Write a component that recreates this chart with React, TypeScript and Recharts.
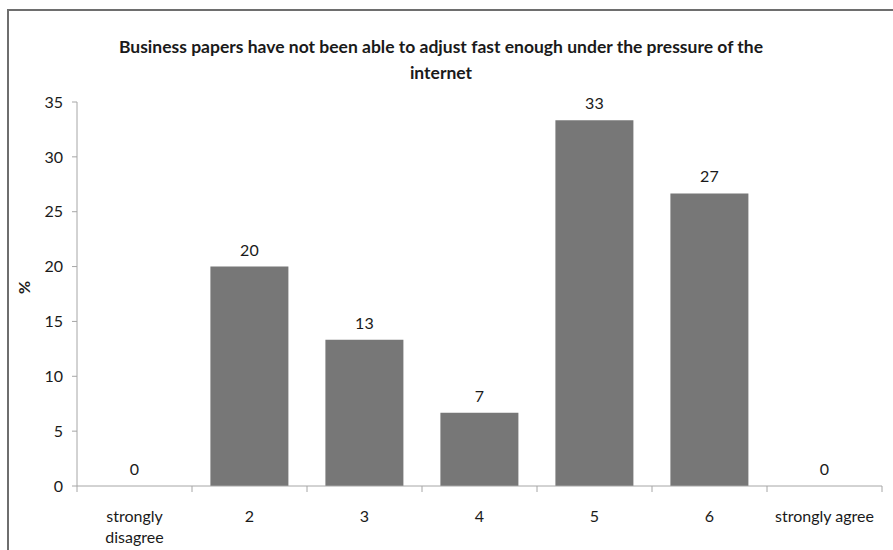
import React from 'react';
import { BarChart, Bar, XAxis, YAxis, LabelList } from 'recharts';

// Survey answers, share of respondents in %
const categories = ['strongly disagree', '2', '3', '4', '5', '6', 'strongly agree'];
const shares = [0, 20, 13.33, 6.67, 33.33, 26.67, 0];
const yTicks = [0, 5, 10, 15, 20, 25, 30, 35];

const title1 = 'Business papers have not been able to adjust fast enough under the pressure of the';
const title2 = 'internet';

const data = categories.map((c, i) => ({ answer: c, share: shares[i] }));

const FONT = 'Lato, "Open Sans", sans-serif';
const AXIS = '#a6a6a6';
const TEXT = '#1a1a1a';
const FS = 16;

const W = 893;
const H = 550;
const M = { top: 102, right: 11, left: 0, bottom: 14 };
const Y_W = 77;

// x ticks: Excel-style marks on category boundaries, long labels wrapped on two lines
function AnswerTick(props: any) {
  const { x, y, payload, index } = props;
  const step = (W - M.left - M.right - Y_W) / categories.length;
  const label: string = payload.value;
  const lines = label.length > 15 ? label.split(' ') : [label];
  const axisY = y - 8;
  return (
    <g>
      <line x1={x - step / 2} x2={x - step / 2} y1={axisY} y2={axisY + 6} stroke={AXIS} />
      {index === categories.length - 1 && (
        <line x1={x + step / 2} x2={x + step / 2} y1={axisY} y2={axisY + 6} stroke={AXIS} />
      )}
      <text x={x} y={axisY + 36} textAnchor="middle" fontSize={FS} fill={TEXT} fontFamily={FONT}>
        {lines.map((l, i) => (
          <tspan key={i} x={x} dy={i === 0 ? 0 : 21}>
            {l}
          </tspan>
        ))}
      </text>
    </g>
  );
}

// value above each bar, also drawn for the empty categories
function ValueLabel(props: any) {
  const { x, y, width, value } = props;
  return (
    <text x={x + width / 2} y={y - 11} textAnchor="middle" fontSize={FS} fill={TEXT} fontFamily={FONT}>
      {String(Math.round(Number(value)))}
    </text>
  );
}

export default function App() {
  return (
    <div style={{ position: 'absolute', left: 0, top: 0, width: W, height: H, background: '#fff', fontFamily: FONT }}>
      <div
        style={{
          position: 'absolute',
          left: 7,
          top: 9,
          width: W,
          height: H,
          borderLeft: '2px solid #6e6e6e',
          borderTop: '2px solid #6e6e6e',
        }}
      />
      <div
        style={{
          position: 'absolute',
          left: 0,
          top: 34,
          width: 882,
          textAlign: 'center',
          fontWeight: 700,
          fontSize: 17.5,
          lineHeight: '26px',
          color: TEXT,
        }}
      >
        <div>{title1}</div>
        <div>{title2}</div>
      </div>
      <div style={{ position: 'absolute', left: 0, top: 0 }}>
        <BarChart width={W} height={H} data={data} margin={M} barCategoryGap="16%">
          <XAxis
            dataKey="answer"
            height={50}
            stroke={AXIS}
            tickLine={false}
            tick={<AnswerTick />}
            interval={0}
          />
          <YAxis
            width={Y_W}
            domain={[0, 35]}
            ticks={yTicks}
            stroke={AXIS}
            tickSize={5}
            tickMargin={9}
            tick={{ fontSize: FS, fill: TEXT, fontFamily: FONT }}
            label={{
              value: '%',
              angle: -90,
              position: 'insideLeft',
              offset: 24,
              style: { fontSize: FS, fontWeight: 700, fill: TEXT, fontFamily: FONT },
            }}
          />
          {/* tiny minPointSize keeps the empty categories so their "0" label is drawn */}
          <Bar dataKey="share" fill="#777777" minPointSize={0.01} isAnimationActive={false}>
            <LabelList dataKey="share" content={<ValueLabel />} />
          </Bar>
        </BarChart>
      </div>
    </div>
  );
}
